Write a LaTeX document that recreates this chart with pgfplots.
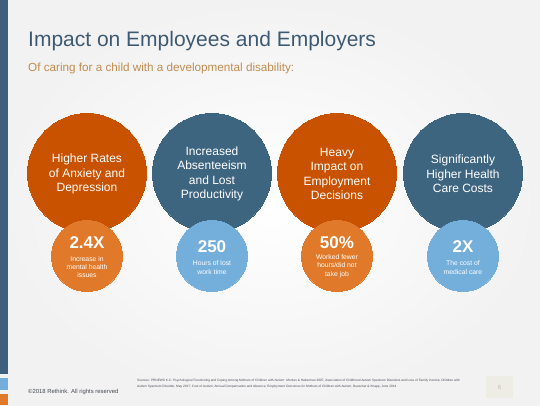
\documentclass[border=0pt]{standalone}
\usepackage{pgfplots}
\pgfplotsset{compat=1.18}
\usepackage{fontspec}
\setmainfont{Liberation Sans}
\definecolor{titleblue}{RGB}{62,90,115}
\definecolor{subtitle}{RGB}{192,140,78}
\definecolor{bigorange}{RGB}{200,82,0}
\definecolor{smallorange}{RGB}{224,122,42}
\definecolor{bigblue}{RGB}{62,101,128}
\definecolor{smallblue}{RGB}{116,174,219}
\definecolor{barblue}{RGB}{62,96,125}
\definecolor{textgray}{RGB}{70,75,85}
\definecolor{pagebox}{RGB}{238,237,229}
\definecolor{pagenum}{RGB}{195,190,175}
\definecolor{bgedge}{RGB}{242,242,242}
\tikzset{
  bigtxt/.style={align=center, text=white, inner sep=0, font=\fontsize{12}{14.5}\selectfont},
  numtxt/.style={align=center, text=white, inner sep=0, font=\fontsize{17}{20}\selectfont\bfseries},
  smalltxt/.style={align=center, text=white, inner sep=0, font=\fontsize{6.8}{8.3}\selectfont},
}
\begin{document}
\begin{tikzpicture}
\begin{axis}[scale only axis, width=540pt, height=405pt,
  xmin=0, xmax=540, ymin=0, ymax=405, hide axis, clip=false, set layers]
\begin{pgfonlayer}{axis background}
% background
\shade[inner color=white, outer color=bgedge] (axis cs:0,0) rectangle (axis cs:540,405);
% left bar
\fill[barblue] (axis cs:0,31) rectangle (axis cs:8,405);
\fill[smallblue] (axis cs:0,15) rectangle (axis cs:8,27);
\fill[smallorange] (axis cs:0,0) rectangle (axis cs:8,11);
\end{pgfonlayer}
% big circles
\addplot[only marks, mark=*, mark size=59.5, color=bigorange, mark options={draw=bigorange, fill=bigorange, line width=0pt}]
  coordinates {(87,232) (337,232)};
\addplot[only marks, mark=*, mark size=59.5, color=bigblue, mark options={draw=bigblue, fill=bigblue, line width=0pt}]
  coordinates {(212,232) (463,232)};
% small circles
\addplot[only marks, mark=*, mark size=35.5, color=smallorange, mark options={draw=smallorange, fill=smallorange, line width=0pt}]
  coordinates {(87,149) (337,149)};
\addplot[only marks, mark=*, mark size=35.5, color=smallblue, mark options={draw=smallblue, fill=smallblue, line width=0pt}]
  coordinates {(212,149) (463,149)};
\begin{pgfonlayer}{axis foreground}
% title
\node[anchor=base west, inner sep=0, text=titleblue, font=\fontsize{21}{25}\selectfont]
  at (axis cs:28,358) {Impact on Employees and Employers};
\node[anchor=base west, inner sep=0, text=subtitle, font=\fontsize{11.7}{13}\selectfont]
  at (axis cs:28,333) {Of caring for a child with a developmental disability:};
% big circle texts
\node[bigtxt] at (axis cs:87,231) {Higher Rates\\of Anxiety and\\Depression};
\node[bigtxt] at (axis cs:212,231) {Increased\\Absenteeism\\and Lost\\Productivity};
\node[bigtxt] at (axis cs:337,231) {Heavy\\Impact on\\Employment\\Decisions};
\node[bigtxt] at (axis cs:463,231) {Significantly\\Higher Health\\Care Costs};
% small circle numbers
\node[numtxt] at (axis cs:87,162) {2.4X};
\node[numtxt] at (axis cs:212,158) {250};
\node[numtxt] at (axis cs:337,162) {50\%};
\node[numtxt] at (axis cs:463,158) {2X};
\node[smalltxt] at (axis cs:87,138) {Increase in\\mental health\\issues};
\node[smalltxt] at (axis cs:212,137.5) {Hours of lost\\work time};
\node[smalltxt] at (axis cs:337,139) {Worked fewer\\hours/did not\\take job};
\node[smalltxt] at (axis cs:463,137.5) {The cost of\\medical care};
% footer
\node[anchor=base west, inner sep=0, text=textgray, font=\fontsize{5.9}{7}\selectfont]
  at (axis cs:28,12) {\copyright 2018 Rethink. All rights reserved};
\node[anchor=base west, inner sep=0, align=left, text=textgray, font=\fontsize{3.2}{5.5}\selectfont]
  at (axis cs:137,18) {Sources: PRNEWS K.C. Psychological Functioning and Coping Among Mothers of Children with Autism: Montes \& Halterman 2007, Association of Childhood Autism Spectrum Disorders and Loss of Family Income; Children with\\Autism Spectrum Disorder, May 2017; Cost of Autism; Annual Compensation and Absence; Employment Outcomes for Mothers of Children with Autism; Buescher \& Knapp, June 2014};
% page number
\fill[pagebox] (axis cs:486,7) rectangle (axis cs:513,29);
\node[text=pagenum, inner sep=0, font=\fontsize{6}{7}\selectfont] at (axis cs:499.5,18) {6};
\end{pgfonlayer}
\end{axis}
\end{tikzpicture}
\end{document}
